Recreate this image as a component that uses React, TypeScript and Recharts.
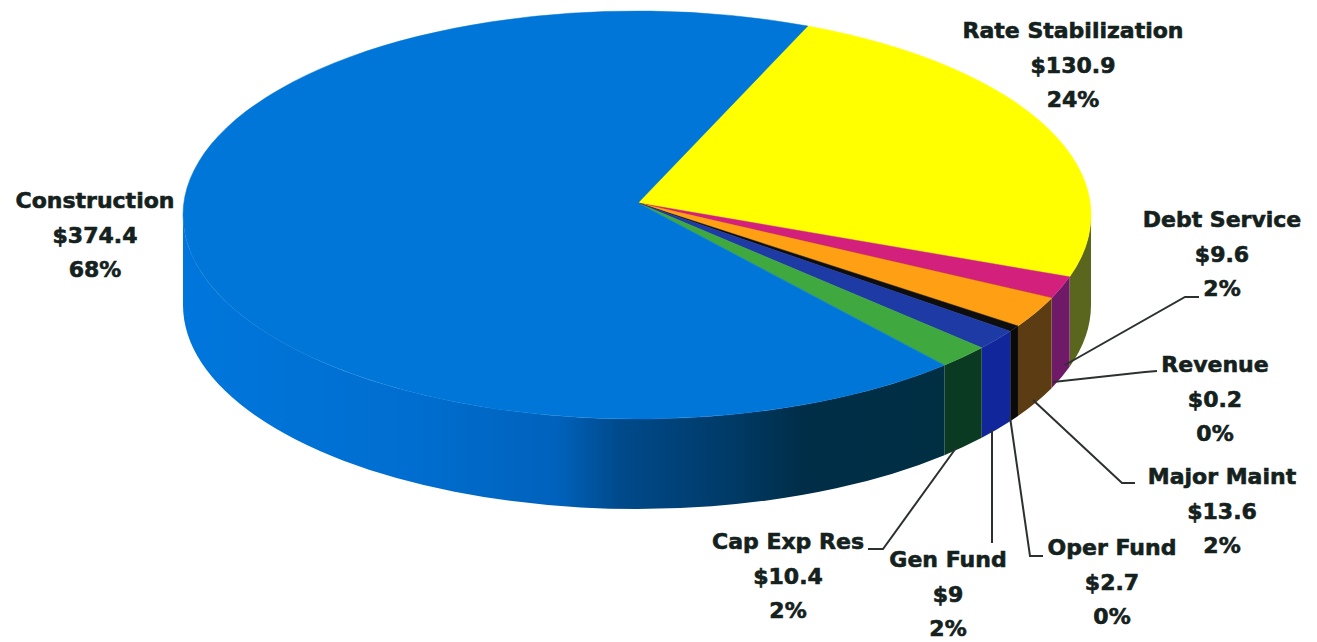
import { PieChart, Pie } from 'recharts';

const categories = ['Rate Stabilization', 'Debt Service', 'Revenue', 'Major Maint', 'Oper Fund', 'Gen Fund', 'Cap Exp Res', 'Construction'];
const amounts = [130.9, 9.6, 0.2, 13.6, 2.7, 9, 10.4, 374.4];
const topColors = ['#ffff00', '#d2207c', '#c8441c', '#ffa014', '#0e0e0e', '#1e3aa4', '#3fa83e', '#0077d8'];
const wallColors = ['#5a661e', '#6e1a66', '#5a2a14', '#5c3c12', '#0a0a0a', '#10269a', '#0b3a22', 'url(#constructionWall)'];

// Ellipse the flat pie is projected on to
const RX = 454;
const RY = 204;
const CX = 637;
const CY = 215;
const DEPTH = 90;
const APEX_X = 638;
const APEX_Y = 203;

// Text centre, first line y, and the leader's route back to the slice
const labelLayout = [
    { x: 1073, y: 38, leader: [] },
    { x: 1222, y: 227, leader: [[1065, 365], [1185, 297], [1199, 297]] },
    { x: 1215, y: 372, leader: [[1053, 382], [1145, 372], [1157, 371]] },
    { x: 1222, y: 484, leader: [[1033, 400], [1122, 483], [1135, 483]] },
    { x: 1112, y: 555, leader: [[1010, 417], [1030, 556], [1043, 556]] },
    { x: 948, y: 567, leader: [[992, 430], [992, 543]] },
    { x: 788, y: 549, leader: [[956, 448], [883, 549], [868, 549]] },
    { x: 95, y: 208, leader: [] },
];

const chartData = categories.map((name, i) => ({
    name,
    value: amounts[i],
    fill: topColors[i],
    wall: wallColors[i],
}));

const RAD = Math.PI / 180;
const px = (deg: number) => CX + RX * Math.cos(deg * RAD);
const py = (deg: number) => CY - RY * Math.sin(deg * RAD);

function SliceShape(props: any) {
    const hi = Math.max(props.startAngle, props.endAngle);
    const lo = Math.min(props.startAngle, props.endAngle);
    const large = hi - lo > 180 ? 1 : 0;
    const top = `M${APEX_X},${APEX_Y} L${px(hi)},${py(hi)} A${RX},${RY} 0 ${large} 1 ${px(lo)},${py(lo)} Z`;

    // only the part of the rim that faces the viewer gets a wall
    const a = Math.min(hi, 0);
    const b = Math.max(lo, -180);
    const wall = a > b
        ? `M${px(a)},${py(a)} A${RX},${RY} 0 0 1 ${px(b)},${py(b)} L${px(b)},${py(b) + DEPTH} A${RX},${RY} 0 0 0 ${px(a)},${py(a) + DEPTH} Z`
        : null;

    return (
        <g>
            {wall && <path d={wall} fill={props.wall} />}
            <path d={top} fill={props.fill} stroke={props.fill} strokeWidth={0.5} />
        </g>
    );
}

function SliceLabel(props: any) {
    const layout = labelLayout[props.index];
    return (
        <g>
            {layout.leader.length > 0 && (
                <polyline
                    points={layout.leader.map((p) => p.join(',')).join(' ')}
                    fill="none"
                    stroke="#2c3130"
                    strokeWidth={2}
                />
            )}
            <text
                x={layout.x}
                y={layout.y}
                textAnchor="middle"
                fill="#14211d"
                stroke="#14211d"
                strokeWidth={0.6}
                fontFamily="'DejaVu Sans', sans-serif"
                fontWeight={700}
                fontSize={22}
            >
                <tspan x={layout.x}>{props.name}</tspan>
                <tspan x={layout.x} dy={34.5}>${props.value}</tspan>
                <tspan x={layout.x} dy={34.5}>{Math.round(props.percent * 100)}%</tspan>
            </text>
        </g>
    );
}

export default function App() {
    return (
        <div style={{ position: 'absolute', left: 0, top: 0, width: 1317, height: 642, background: '#fff' }}>
            <PieChart width={1317} height={642} margin={{ top: 0, right: 0, bottom: 0, left: 0 }}>
                <defs>
                    <linearGradient id="constructionWall" gradientUnits="userSpaceOnUse" x1={183} y1={0} x2={946} y2={0}>
                        <stop offset="0%" stopColor="#0076dc" />
                        <stop offset="30%" stopColor="#006ed0" />
                        <stop offset="49%" stopColor="#0062bc" />
                        <stop offset="57%" stopColor="#004a8c" />
                        <stop offset="72%" stopColor="#003a66" />
                        <stop offset="81%" stopColor="#002e48" />
                        <stop offset="100%" stopColor="#002e42" />
                    </linearGradient>
                </defs>
                <Pie
                    data={chartData}
                    dataKey="value"
                    nameKey="name"
                    cx={CX}
                    cy={CY}
                    outerRadius={RX}
                    startAngle={67.9}
                    endAngle={-292.1}
                    stroke="none"
                    isAnimationActive={false}
                    shape={SliceShape}
                    label={SliceLabel}
                    labelLine={false}
                />
            </PieChart>
        </div>
    );
}
